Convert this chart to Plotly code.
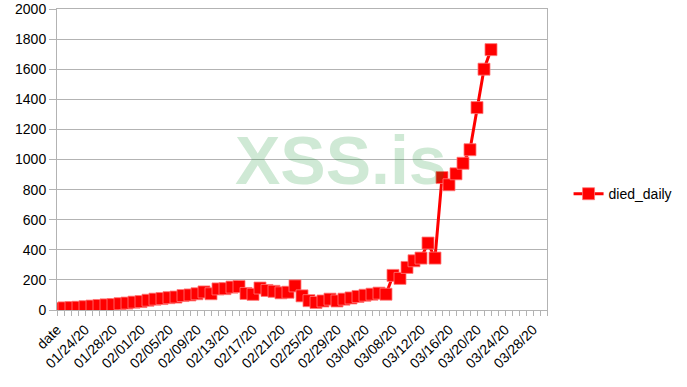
import plotly.graph_objects as go
import pandas as pd

# categories: header "date" followed by daily dates 01/21/20 .. 03/30/20
categories = ["date"] + list(pd.date_range("2020-01-21", "2020-03-30").strftime("%m/%d/%y"))

# tick labels shown every 4th category
tick_labels = ["date", "01/24/20", "01/28/20", "02/01/20", "02/05/20", "02/09/20",
               "02/13/20", "02/17/20", "02/21/20", "02/25/20", "02/29/20", "03/04/20",
               "03/08/20", "03/12/20", "03/16/20", "03/20/20", "03/24/20", "03/28/20"]

# died_daily values, one per category starting at "date"
died_daily = [10, 14, 16, 18, 22, 26, 30, 34, 36, 42,
              46, 52, 56, 65, 72, 76, 82, 86, 96, 100,
              108, 120, 108, 140, 142, 152, 156, 110, 104, 146,
              130, 124, 114, 118, 160, 94, 62, 50, 60, 72,
              60, 72, 80, 90, 98, 105, 112, 105, 230, 210,
              283, 327, 345, 445, 345, 880, 832, 905, 975, 1065,
              1345, 1600, 1730]

series_name = "died_daily"
watermark = "XSS.is"

x_vals = categories[:len(died_daily)]
ticktext = [c if c in tick_labels else "" for c in categories]

fig = go.Figure()
fig.add_trace(go.Scatter(
    x=x_vals, y=died_daily, name=series_name, mode="lines+markers",
    line=dict(color="#ff0000", width=3),
    marker=dict(symbol="square", size=12, color="#ff0000",
                line=dict(color="rgba(255,120,120,0.8)", width=1)),
))

grid = "#b3b3b3"
fig.update_layout(
    width=687, height=387,
    margin=dict(l=57, r=136, t=9, b=77),
    paper_bgcolor="white", plot_bgcolor="white",
    font=dict(family="Liberation Sans, Arial, sans-serif", size=14, color="#000000"),
    showlegend=True,
    legend=dict(x=1.044, y=0.385, xanchor="left", yanchor="middle",
                font=dict(size=14), bgcolor="rgba(0,0,0,0)"),
    xaxis=dict(
        type="category", categoryorder="array", categoryarray=categories,
        range=[0, len(categories) - 1], automargin=False,
        tickmode="array", tickvals=categories, ticktext=ticktext,
        tickangle=-45, ticks="outside", ticklen=5, tickcolor=grid,
        showgrid=False, showline=True, linecolor=grid, linewidth=1, mirror=True,
        zeroline=False,
    ),
    yaxis=dict(
        range=[0, 2000], dtick=200, tick0=0, automargin=False,
        ticks="outside", ticklen=7, tickcolor=grid,
        showgrid=True, gridcolor=grid, gridwidth=1,
        showline=True, linecolor=grid, linewidth=1, mirror=True,
        zeroline=False,
    ),
)

fig.add_annotation(
    text=watermark, xref="paper", yref="paper",
    x=(343 - 57) / 494, y=(310 - 160) / 301, xanchor="center", yanchor="middle",
    showarrow=False,
    font=dict(family="Liberation Sans, Arial, sans-serif", size=68,
              color="rgba(0,139,34,0.19)", weight="bold"),
)

fig.write_html("out.html")
